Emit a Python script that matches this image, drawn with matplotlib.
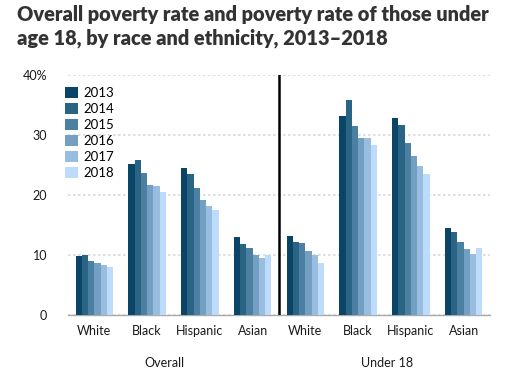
import matplotlib
matplotlib.use("Agg")
import matplotlib.pyplot as plt
import numpy as np
from matplotlib.patches import Patch

plt.rcParams['font.family'] = ['Lato', 'DejaVu Sans']

years = ["2013", "2014", "2015", "2016", "2017", "2018"]
categories = ["White", "Black", "Hispanic", "Asian", "White", "Black", "Hispanic", "Asian"]
groups = ["Overall", "Under 18"]
colors = ["#0a4466", "#2a6485", "#4b80a3", "#729fc2", "#98bde0", "#bddcfb"]

# values[year][category]
values = {
    "2013": [9.8, 25.2, 24.5, 13.0, 13.2, 33.2, 32.8, 14.5],
    "2014": [10.0, 25.8, 23.5, 11.8, 12.2, 35.8, 31.7, 13.8],
    "2015": [9.0, 23.7, 21.2, 11.2, 12.0, 31.5, 28.7, 12.2],
    "2016": [8.7, 21.7, 19.2, 10.0, 10.7, 29.5, 26.5, 11.0],
    "2017": [8.3, 21.5, 18.2, 9.5, 10.0, 29.5, 24.8, 10.2],
    "2018": [8.0, 20.5, 17.5, 10.0, 8.7, 28.3, 23.5, 11.2],
}

fig = plt.figure(figsize=(5.32, 3.78), dpi=100)
ax = fig.add_axes([68/532, 1-315/378, 422/532, 240/378])

x = np.arange(len(categories))
gw = 0.71
bw = gw / len(years)
for i, y in enumerate(years):
    ax.bar(x - gw/2 + bw*(i+0.5), values[y], width=bw, color=colors[i], zorder=3, linewidth=0)

ax.set_xlim(-0.5, 7.5)
ax.set_ylim(0, 40)
ax.set_yticks([0, 10, 20, 30, 40])
ax.set_yticklabels(["0", "10", "20", "30", "40%"])
ax.set_xticks(x)
ax.set_xticklabels(categories)
ax.tick_params(axis='both', length=0, labelsize=9, colors="#1a1a1a")
ax.tick_params(axis='x', pad=7)
ax.tick_params(axis='y', pad=15)
ax.yaxis.grid(True, color="#d9d9d9", linestyle=(0, (1.5, 1.5)), linewidth=1.2, zorder=0)
ax.xaxis.grid(False)
for s in ["top", "right", "left"]:
    ax.spines[s].set_visible(False)
ax.spines["bottom"].set_color("#aaaaaa")
ax.spines["bottom"].set_linewidth(1)
ax.axvline(3.5, color="black", linewidth=1.8, zorder=4)

ax.text(1.33, -0.2, groups[0], transform=ax.get_xaxis_transform(), ha='center', va='center',
        fontsize=9, color="#1a1a1a")
ax.text(5.55, -0.2, groups[1], transform=ax.get_xaxis_transform(), ha='center', va='center',
        fontsize=9, color="#1a1a1a")

handles = [Patch(facecolor=c, edgecolor='none') for c in colors]
fig.legend(handles, years, loc='upper left', bbox_to_anchor=(65/532, 1-87/378), frameon=False,
           handlelength=0.95, handleheight=0.95, handletextpad=0.45, labelspacing=0.28,
           fontsize=9.5, borderaxespad=0, borderpad=0)

fig.text(17/532, 1-5/378, "Overall poverty rate and poverty rate of those under\nage 18, by race and ethnicity, 2013\u20132018",
         ha='left', va='top', fontsize=14.4, fontweight='heavy', color="#333333", linespacing=1.28)

fig.savefig("out.png", dpi=100)
